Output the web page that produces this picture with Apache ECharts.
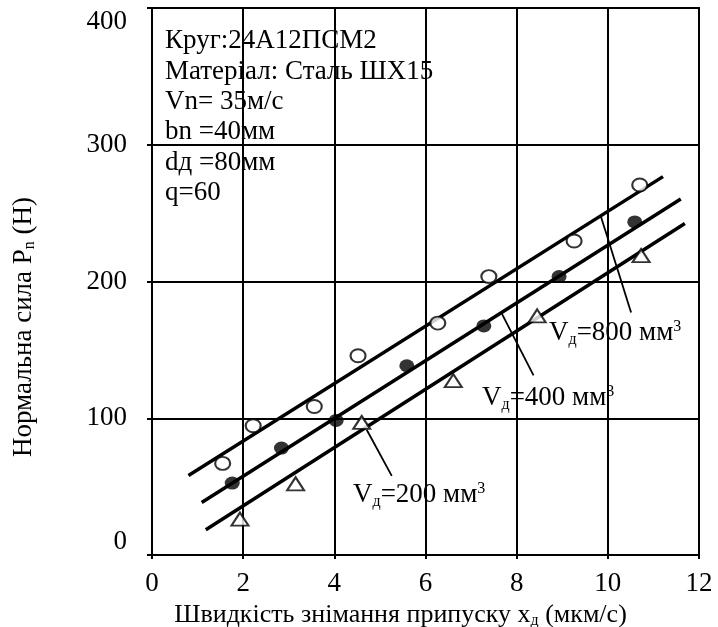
<!DOCTYPE html>
<html>
<head>
<meta charset="utf-8">
<script src="https://cdn.jsdelivr.net/npm/echarts@6/dist/echarts.min.js"></script>
<style>
  html, body { margin: 0; padding: 0; background: #fff; }
  #chart { width: 718px; height: 627px; }
</style>
</head>
<body>
<div id="chart"></div>
<script>
// V = 800 мм3, open circles
const x800 = [1.55, 2.22, 3.56, 4.52, 6.27, 7.39, 9.26, 10.70];
const y800 = [67, 94.5, 108.6, 145.7, 169.6, 203.6, 229.6, 270.6];
// V = 400 мм3, filled circles
const x400 = [1.76, 2.84, 4.04, 5.59, 7.28, 8.93, 10.59];
const y400 = [52.6, 78.2, 98.4, 138.4, 167.5, 203.6, 243.6];
// V = 200 мм3, triangles
const x200 = [1.93, 3.15, 4.60, 6.61, 8.45, 10.73];
const y200 = [26.3, 52.1, 96.9, 127.5, 174.9, 219];

// fitted lines, end points
const fit800 = [[0.80, 58.1], [11.21, 276.7]];
const fit400 = [[1.09, 38.4], [11.60, 260.3]];
const fit200 = [[1.18, 18.5], [11.69, 242.4]];

// leader lines to the labels
const lead800 = [[9.85, 247.3], [10.51, 177.3]];
const lead400 = [[7.68, 176.1], [8.37, 131.4]];
const lead200 = [[4.71, 91.6], [5.26, 57.9]];

const xTicks = [0, 2, 4, 6, 8, 10, 12];
const yTicks = [0, 100, 200, 300, 400];

const infoLines = [
  "Круг:24А12ПСМ2",
  "Матеріал: Сталь ШХ15",
  "Vn= 35м/с",
  "bn =40мм",
  "dд =80мм",
  "q=60"
];

const FONT = "'Liberation Serif', 'Times New Roman', serif";
const FS = 27;

function pairs(xs, ys) {
  return xs.map((x, i) => [x, ys[i]]);
}

const subStyle = { fontSize: 16, fontFamily: FONT, color: "#000", verticalAlign: "bottom", padding: [11, 0, 0, 0] };
const richV = {
  m: { fontSize: FS, fontFamily: FONT, color: "#000" },
  s: subStyle,
  p: { fontSize: 16, fontFamily: FONT, color: "#000", verticalAlign: "top", padding: [0, 0, 13, 0] }
};

function lineSeries(data, width) {
  return {
    type: "line",
    data: data,
    symbol: "none",
    silent: true,
    lineStyle: { color: "#000", width: width },
    z: 2
  };
}

const chart = echarts.init(document.getElementById("chart"));
chart.setOption({
  animation: false,
  backgroundColor: "#fff",
  grid: {
    left: 152,
    right: 19,
    top: 8,
    bottom: 72,
    outerBoundsMode: "none",
    containLabel: false,
    show: true,
    borderColor: "#000",
    borderWidth: 2
  },
  xAxis: {
    type: "value",
    min: xTicks[0],
    max: xTicks[xTicks.length - 1],
    interval: 2,
    name: "Швидкість знімання припуску x{s|д} (мкм/с)",
    nameLocation: "middle",
    nameGap: 31,
    nameTextStyle: {
      fontSize: 26, fontFamily: FONT, color: "#000",
      padding: [0, 50, 0, 0],
      rich: { s: subStyle }
    },
    axisLine: { show: true, lineStyle: { color: "#000", width: 2 } },
    axisTick: { show: true, length: 4, lineStyle: { color: "#000", width: 2 } },
    axisLabel: { fontSize: FS, fontFamily: FONT, color: "#000", margin: 15 },
    splitLine: { show: true, lineStyle: { color: "#000", width: 2 } }
  },
  yAxis: {
    type: "value",
    min: yTicks[0],
    max: yTicks[yTicks.length - 1],
    interval: 100,
    axisLine: { show: true, lineStyle: { color: "#000", width: 2 } },
    axisTick: { show: true, length: 5, lineStyle: { color: "#000", width: 2 } },
    axisLabel: {
      fontSize: FS, fontFamily: FONT, color: "#000", margin: 25,
      verticalAlignMinLabel: "bottom",
      verticalAlignMaxLabel: "top"
    },
    splitLine: { show: true, lineStyle: { color: "#000", width: 2 } }
  },
  graphic: [
    {
      type: "text",
      left: 165,
      top: 26,
      style: {
        text: infoLines.join("\n"),
        fontSize: FS,
        fontFamily: FONT,
        lineHeight: 30.4,
        fill: "#000"
      },
      z: 10
    },
    {
      type: "text",
      x: 24,
      y: 327,
      rotation: Math.PI / 2,
      style: {
        text: "Нормальна сила P{s|n} (H)",
        fontSize: FS,
        fontFamily: FONT,
        fill: "#000",
        align: "center",
        verticalAlign: "middle",
        rich: { s: subStyle }
      }
    },
    {
      type: "text", x: 549, y: 333,
      style: { text: "{m|V}{s|д}{m|=800 мм}{p|3}", rich: richV, verticalAlign: "middle" },
      z: 10
    },
    {
      type: "text", x: 482, y: 398,
      style: { text: "{m|V}{s|д}{m|=400 мм}{p|3}", rich: richV, verticalAlign: "middle" },
      z: 10
    },
    {
      type: "text", x: 353, y: 495,
      style: { text: "{m|V}{s|д}{m|=200 мм}{p|3}", rich: richV, verticalAlign: "middle" },
      z: 10
    }
  ],
  series: [
    lineSeries(fit800, 3.5),
    lineSeries(fit400, 3.5),
    lineSeries(fit200, 3.5),
    lineSeries(lead800, 1.8),
    lineSeries(lead400, 1.8),
    lineSeries(lead200, 1.8),
    {
      type: "scatter",
      data: pairs(x800, y800),
      symbol: "circle",
      symbolSize: [15, 13],
      itemStyle: { color: "#fff", borderColor: "#000", borderWidth: 2 },
      z: 5
    },
    {
      type: "scatter",
      data: pairs(x400, y400),
      symbol: "circle",
      symbolSize: [15, 13],
      itemStyle: { color: "#000" },
      z: 5
    },
    {
      type: "scatter",
      data: pairs(x200, y200),
      symbol: "triangle",
      symbolSize: [17, 13],
      itemStyle: { color: "#fff", borderColor: "#000", borderWidth: 2 },
      z: 5
    }
  ]
});
</script>
</body>
</html>
